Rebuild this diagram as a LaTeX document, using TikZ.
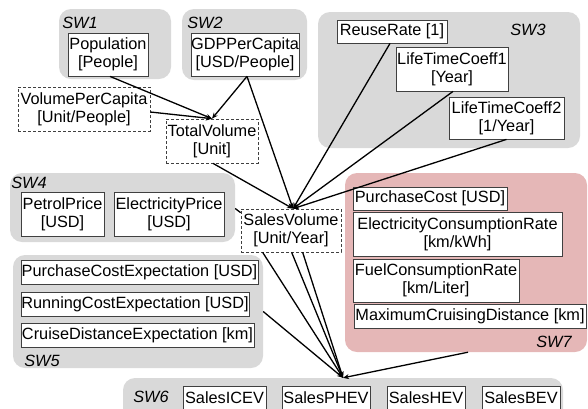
\documentclass[tikz,border=0pt]{standalone}
\usepackage{fontspec}
\setmainfont{Liberation Sans}
\usetikzlibrary{arrows.meta}
\definecolor{grpgray}{RGB}{217,217,217}
\definecolor{grppink}{RGB}{229,183,183}
\definecolor{boxline}{RGB}{64,64,64}
\begin{document}
\begin{tikzpicture}[x=1pt,y=-1pt,
  every node/.style={font=\fontsize{16.3}{18}\selectfont, inner sep=0pt, align=center},
  grp/.style={fill=grpgray, rounded corners=12pt, draw=none},
  grpk/.style={fill=grppink, rounded corners=12pt, draw=none},
  grplabel/.style={font=\fontsize{16.3}{18}\selectfont\itshape},
  vbox/.style={draw=boxline, fill=white, line width=0.8pt},
  dbox/.style={draw=boxline, fill=white, line width=0.7pt, dash pattern=on 3pt off 2pt},
  conn/.style={line width=1.3pt, black},
  arr/.style={conn, -{Stealth[length=6pt,width=5pt]}}
]
\useasboundingbox (0,0) rectangle (588,408);
\clip (0,0) rectangle (588,408);
% groups
\node[grp, minimum width=112pt, minimum height=70pt] (sw1) at (115,44) {};
\node[grp, minimum width=125pt, minimum height=71pt] (sw2) at (244.5,44.5) {};
\node[grp, minimum width=262pt, minimum height=136pt] (sw3) at (449,80) {};
\node[grp, minimum width=225pt, minimum height=69pt] (sw4) at (122.5,207.5) {};
\node[grp, minimum width=250pt, minimum height=113pt] (sw5) at (138,311.5) {};
\node[grp, minimum width=440pt, minimum height=60pt] (sw6) at (343,408) {};
\node[grpk, minimum width=242pt, minimum height=179pt] (sw7) at (466,262.5) {};
% group labels
\node[grplabel] (l1) at (80,23) {SW1};
\node[grplabel] (l2) at (205,23) {SW2};
\node[grplabel] (l3) at (528,30) {SW3};
\node[grplabel] (l4) at (29,183) {SW4};
\node[grplabel] (l5) at (42,361) {SW5};
\node[grplabel] (l6) at (151,397) {SW6};
\node[grplabel] (l7) at (554,342) {SW7};
% boxes
\node[vbox, minimum width=80pt, minimum height=43pt] (pop) at (108,54.5) {Population\\{[People]}};
\node[vbox, minimum width=108pt, minimum height=43pt] (gdp) at (245,54.5) {GDPPerCapita\\{[USD/People]}};
\node[dbox, minimum width=132pt, minimum height=44pt] (vpc) at (84,109) {VolumePerCapita\\{[Unit/People]}};
\node[dbox, minimum width=92pt, minimum height=44pt] (tv) at (212,141) {TotalVolume\\{[Unit]}};
\node[vbox, minimum width=110pt, minimum height=23pt] (rr) at (392,31.5) {ReuseRate [1]};
\node[vbox, minimum width=112pt, minimum height=44pt] (lt1) at (452,69) {LifeTimeCoeff1\\{[Year]}};
\node[vbox, minimum width=115pt, minimum height=42pt] (lt2) at (506.5,118) {LifeTimeCoeff2\\{[1/Year]}};
\node[vbox, minimum width=83pt, minimum height=44pt] (pp) at (62.5,214) {PetrolPrice\\{[USD]}};
\node[vbox, minimum width=110pt, minimum height=44pt] (ep) at (169,214) {ElectricityPrice\\{[USD]}};
\node[dbox, minimum width=100pt, minimum height=43pt] (sv) at (291,230.5) {SalesVolume\\{[Unit/Year]}};
\node[vbox, minimum width=237pt, minimum height=24pt] (pce) at (139.5,272) {PurchaseCostExpectation [USD]};
\node[vbox, minimum width=228pt, minimum height=24pt] (rce) at (135,304) {RunningCostExpectation [USD]};
\node[vbox, minimum width=233pt, minimum height=24pt] (cde) at (137.5,335) {CruiseDistanceExpectation [km]};
\node[vbox, minimum width=154pt, minimum height=23pt] (pc) at (430,198.5) {PurchaseCost [USD]};
\node[vbox, minimum width=209pt, minimum height=44pt] (ecr) at (457.5,234) {ElectricityConsumptionRate\\{[km/kWh]}};
\node[vbox, minimum width=166pt, minimum height=43pt] (fcr) at (436,280.5) {FuelConsumptionRate\\{[km/Liter]}};
\node[vbox, minimum width=232pt, minimum height=24pt] (mcd) at (470,316) {MaximumCruisingDistance [km]};
\node[vbox, minimum width=83pt, minimum height=24pt] (sicev) at (224.5,398) {SalesICEV};
\node[vbox, minimum width=88pt, minimum height=24pt] (sphev) at (326,398) {SalesPHEV};
\node[vbox, minimum width=78pt, minimum height=24pt] (shev) at (426,398) {SalesHEV};
\node[vbox, minimum width=78pt, minimum height=24pt] (sbev) at (521,398) {SalesBEV};
% connectors to TotalVolume
\draw[arr] ([xshift=2pt]pop.south) -- (tv.north);
\draw[arr] ([yshift=-3pt]vpc.east) -- (tv.north);
\draw[arr] ([xshift=2pt]gdp.south) -- (tv.north);
% connectors to SalesVolume
\draw[arr] ([xshift=2pt]gdp.south) -- ([xshift=2pt]sv.north);
\draw[arr] ([xshift=1pt]tv.south) -- ([xshift=2pt]sv.north);
\draw[arr] ([xshift=-2pt]rr.south) -- ([xshift=2pt]sv.north);
\draw[arr] ([xshift=1pt]lt1.south) -- ([xshift=2pt]sv.north);
\draw[arr] (lt2.south) -- ([xshift=2pt]sv.north);
\draw[conn] ([yshift=-1pt]sw4.east) -- ([yshift=-4pt]sv.north west);
% connectors to SW6
\draw[arr] ([xshift=22pt]sv.south west) -- (sw6.north);
\draw[arr] ([xshift=51pt]sv.south west) -- (sw6.north);
\draw[arr] ([xshift=62pt]sv.south west) -- (sw6.north);
\draw[arr] (sw5.east) -- (sw6.north);
\draw[arr] ([xshift=2pt]sw7.south) -- (sw6.north);
\end{tikzpicture}
\end{document}
